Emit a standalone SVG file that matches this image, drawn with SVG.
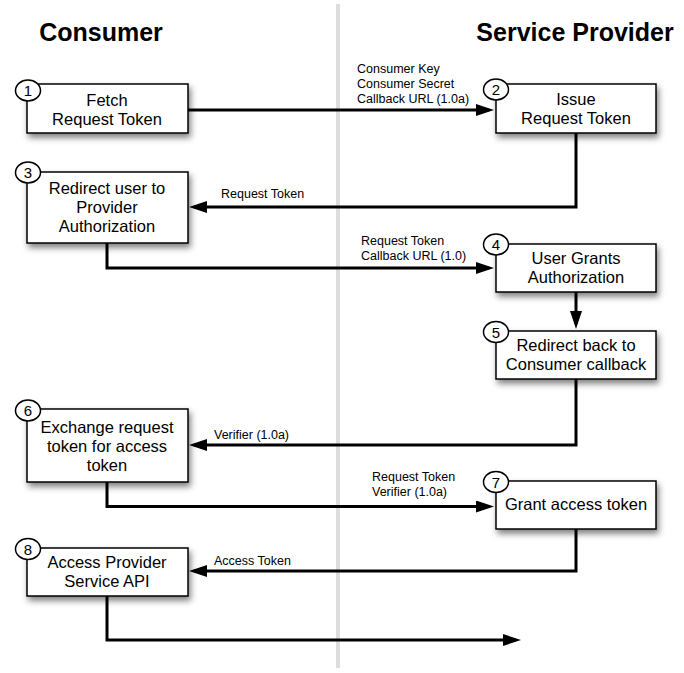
<svg xmlns="http://www.w3.org/2000/svg" width="684" height="673" viewBox="0 0 684 673">
<style>
.box{fill:#fff;stroke:#000;stroke-width:1.5;filter:url(#sh)}
.num{fill:#fff;stroke:#000;stroke-width:1.5}
.t{font-family:"Liberation Sans",Arial,sans-serif;font-size:16.5px;text-anchor:middle;fill:#000}
.n{font-family:"Liberation Sans",Arial,sans-serif;font-size:15px;text-anchor:middle;fill:#000}
.lbl{font-family:"Liberation Sans",Arial,sans-serif;font-size:12.5px;fill:#000}
.h{font-family:"Liberation Sans",Arial,sans-serif;font-size:25px;font-weight:bold;text-anchor:middle;fill:#000}
.c{fill:none;stroke:#000;stroke-width:3;marker-end:url(#ah)}
</style>
<defs>
<filter id="sh" x="-20%" y="-30%" width="140%" height="170%">
<feDropShadow dx="2" dy="4" stdDeviation="3" flood-color="#000" flood-opacity="0.5"/>
</filter>
<marker id="ah" markerUnits="userSpaceOnUse" markerWidth="18" markerHeight="12" refX="13" refY="6" orient="auto">
<path d="M0,0 L18,6 L0,12 z" fill="#000"/>
</marker>
</defs>
<rect width="684" height="673" fill="#fff"/>
<rect x="336" y="4" width="4" height="664" fill="#ddd"/>
<text class="h" x="101" y="41">Consumer</text>
<text class="h" x="575" y="41">Service Provider</text>

<g id="connectors">
<path class="c" d="M188,110 H489"/>
<path class="c" d="M576,133 V207 H194"/>
<path class="c" d="M107,243 V268 H489"/>
<path class="c" d="M576,292 V324"/>
<path class="c" d="M576,379 V445 H194"/>
<path class="c" d="M107,482 V506.5 H489"/>
<path class="c" d="M576,529 V571 H194"/>
<path class="c" d="M107,596 V640 H516"/>
<text class="lbl" x="357" y="73">Consumer Key</text>
<text class="lbl" x="357" y="88">Consumer Secret</text>
<text class="lbl" x="357" y="103">Callback URL (1.0a)</text>
<text class="lbl" x="221" y="198">Request Token</text>
<text class="lbl" x="361" y="245">Request Token</text>
<text class="lbl" x="361" y="260">Callback URL (1.0)</text>
<text class="lbl" x="214" y="439">Verifier (1.0a)</text>
<text class="lbl" x="372" y="481">Request Token</text>
<text class="lbl" x="372" y="496">Verifier (1.0a)</text>
<text class="lbl" x="214" y="565">Access Token</text>
</g>

<g id="node1">
<rect class="box" x="27" y="84" width="161" height="49"/>
<text class="t" x="107" y="106">Fetch</text>
<text class="t" x="107" y="125">Request Token</text>
<ellipse class="num" cx="28" cy="90.5" rx="12.5" ry="10.5"/>
<text class="n" x="28" y="96">1</text>
</g>
<g id="node2">
<rect class="box" x="496" y="84" width="160" height="49"/>
<text class="t" x="576" y="105">Issue</text>
<text class="t" x="576" y="124">Request Token</text>
<ellipse class="num" cx="496" cy="89.5" rx="12.5" ry="10.5"/>
<text class="n" x="496" y="95">2</text>
</g>
<g id="node3">
<rect class="box" x="27" y="172" width="161" height="71"/>
<text class="t" x="107" y="193.5">Redirect user to</text>
<text class="t" x="107" y="213">Provider</text>
<text class="t" x="107" y="232">Authorization</text>
<ellipse class="num" cx="28" cy="172.5" rx="12.5" ry="10.5"/>
<text class="n" x="28" y="178">3</text>
</g>
<g id="node4">
<rect class="box" x="496" y="244" width="160" height="48"/>
<text class="t" x="576" y="263.5">User Grants</text>
<text class="t" x="576" y="282.5">Authorization</text>
<ellipse class="num" cx="496" cy="244.5" rx="12.5" ry="10.5"/>
<text class="n" x="496" y="250">4</text>
</g>
<g id="node5">
<rect class="box" x="496" y="331" width="160" height="48"/>
<text class="t" x="576" y="351">Redirect back to</text>
<text class="t" x="576" y="370">Consumer callback</text>
<ellipse class="num" cx="496" cy="332" rx="12.5" ry="10.5"/>
<text class="n" x="496" y="337.5">5</text>
</g>
<g id="node6">
<rect class="box" x="27" y="409" width="161" height="73"/>
<text class="t" x="107" y="433">Exchange request</text>
<text class="t" x="107" y="452">token for access</text>
<text class="t" x="107" y="471">token</text>
<ellipse class="num" cx="28" cy="410.5" rx="12.5" ry="10.5"/>
<text class="n" x="28" y="416">6</text>
</g>
<g id="node7">
<rect class="box" x="496" y="481" width="160" height="48"/>
<text class="t" x="576" y="510">Grant access token</text>
<ellipse class="num" cx="496" cy="482" rx="12.5" ry="10.5"/>
<text class="n" x="496" y="487.5">7</text>
</g>
<g id="node8">
<rect class="box" x="27" y="548" width="161" height="48"/>
<text class="t" x="107" y="567.5">Access Provider</text>
<text class="t" x="107" y="587">Service API</text>
<ellipse class="num" cx="28" cy="549" rx="12.5" ry="10.5"/>
<text class="n" x="28" y="554.5">8</text>
</g>
</svg>
